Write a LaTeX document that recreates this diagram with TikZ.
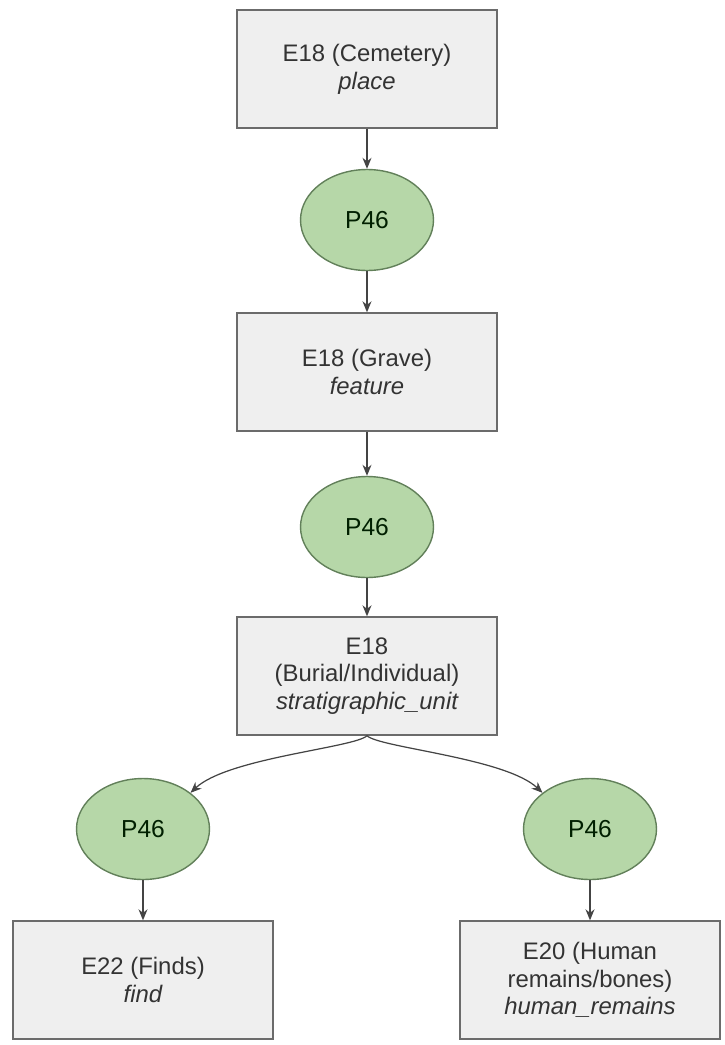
\documentclass[tikz,border=0pt]{standalone}
\usepackage{fontspec}
\setmainfont{Liberation Sans}
\usetikzlibrary{shapes.geometric,arrows.meta}

\definecolor{fondboite}{HTML}{EFEFEF}
\definecolor{bordboite}{HTML}{6B6B6B}
\definecolor{fondprop}{HTML}{B6D7A8}
\definecolor{bordprop}{HTML}{62805A}
\definecolor{texte}{HTML}{333333}
\definecolor{trait}{HTML}{444444}

\tikzset{
    entite/.style={draw=bordboite, fill=fondboite, line width=0.8pt,
        minimum width=5.2cm, minimum height=2.36cm, align=center,
        text=texte, font=\fontsize{13.6}{15.8}\selectfont},
    prop/.style={ellipse, draw=bordprop, fill=fondprop, line width=0.8pt,
        minimum width=2.66cm, minimum height=2.02cm, inner sep=0pt,
        text=black!80!green!60!black, font=\fontsize{14}{16}\selectfont},
    lien/.style={draw=trait, line width=0.7pt, -{Stealth[length=2.2mm,width=1.8mm]}}
}

\begin{document}
\begin{tikzpicture}[x=0.02cm, y=-0.02cm]
    % Cadre de la figure
    \useasboundingbox (0,0) rectangle (724,1045);

    % Colonne centrale
    \node[entite] (cimetiere) at (367,69) {E18 (Cemetery)\\\itshape place};
    \node[prop] (p1) at (367,220) {P46};
    \node[entite] (tombe) at (367,372) {E18 (Grave)\\\itshape feature};
    \node[prop] (p2) at (367,527) {P46};
    \node[entite] (inhumation) at (367,676) {E18\\(Burial/Individual)\\\itshape stratigraphic\_unit};

    % Les deux branches du bas
    \node[prop] (p3) at (143,829) {P46};
    \node[prop] (p4) at (590,829) {P46};
    \node[entite] (objets) at (143,980) {E22 (Finds)\\\itshape find};
    \node[entite] (restes) at (590,980) {E20 (Human\\remains/bones)\\\itshape human\_remains};

    % Fleches droites
    \draw[lien] (cimetiere) -- (p1);
    \draw[lien] (p1) -- (tombe);
    \draw[lien] (tombe) -- (p2);
    \draw[lien] (p2) -- (inhumation);
    \draw[lien] (p3) -- (objets);
    \draw[lien] (p4) -- (restes);

    % Fleches courbes
    \draw[lien] (inhumation.south) .. controls +(-12,12) and +(37,-35) .. (p3.north east);
    \draw[lien] (inhumation.south) .. controls +(12,12) and +(-37,-35) .. (p4.north west);
\end{tikzpicture}
\end{document}
